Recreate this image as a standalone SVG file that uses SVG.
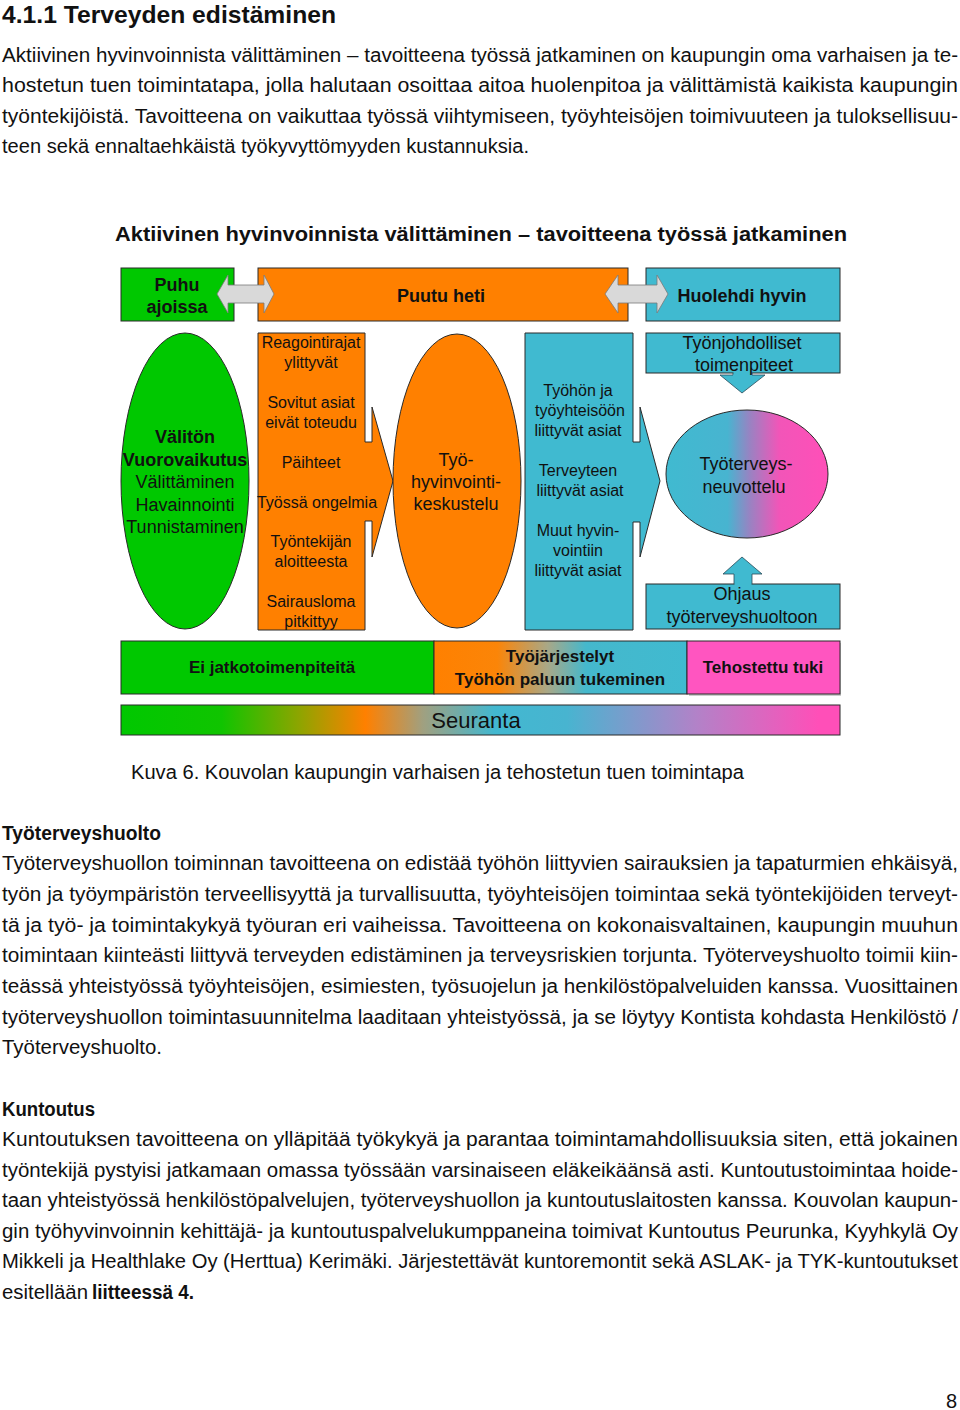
<svg xmlns="http://www.w3.org/2000/svg" width="960" height="1410" viewBox="0 0 960 1410">
<style>
.body{font-family:"Liberation Sans",Arial,sans-serif;font-size:20px;fill:#111}
.bodyb{font-family:"Liberation Sans",Arial,sans-serif;font-size:20px;font-weight:bold;fill:#111}
.d{font-family:"Liberation Sans",Arial,sans-serif;fill:#111;text-anchor:middle}
.db{font-family:"Liberation Sans",Arial,sans-serif;fill:#111;text-anchor:middle;font-weight:bold}
.s16{font-size:16px}
.s18{font-size:18px}
.box{stroke:#2a2a2a;stroke-width:1}
.gray{fill:#d9d9d9;stroke:#7a7a7a;stroke-width:0.8}
.tealarr{fill:#40bad0;stroke:#2a4a58;stroke-width:0.8}
</style>
<defs>
<linearGradient id="gEll" x1="0" y1="0" x2="1" y2="0">
<stop offset="0" stop-color="#40bad0"/><stop offset="0.38" stop-color="#48b4d0"/><stop offset="0.52" stop-color="#9a82c2"/><stop offset="0.7" stop-color="#f255b8"/><stop offset="1" stop-color="#ff4fb8"/>
</linearGradient>
<linearGradient id="gMid" x1="0" y1="0" x2="1" y2="0">
<stop offset="0" stop-color="#ff8000"/><stop offset="0.25" stop-color="#fb8508"/><stop offset="0.45" stop-color="#a8a888"/><stop offset="0.6" stop-color="#45b8cc"/><stop offset="1" stop-color="#40bad0"/>
</linearGradient>
<linearGradient id="gSeu" x1="0" y1="0" x2="1" y2="0">
<stop offset="0" stop-color="#00c800"/><stop offset="0.14" stop-color="#10c400"/><stop offset="0.25" stop-color="#90a400"/><stop offset="0.34" stop-color="#ff8000"/><stop offset="0.42" stop-color="#a0a080"/><stop offset="0.52" stop-color="#42b8d0"/><stop offset="0.62" stop-color="#48b4d0"/><stop offset="0.8" stop-color="#b282c8"/><stop offset="0.97" stop-color="#ff4fb8"/><stop offset="1" stop-color="#ff4fb8"/>
</linearGradient>
</defs>
<rect width="960" height="1410" fill="#fff"/>

<g id="page-text">
<text x="2" y="23" class="bodyb" textLength="334" lengthAdjust="spacingAndGlyphs" style="font-size:24px">4.1.1 Terveyden edistäminen</text>
<text x="2" y="62" class="body" textLength="956" lengthAdjust="spacingAndGlyphs">Aktiivinen hyvinvoinnista välittäminen – tavoitteena työssä jatkaminen on kaupungin oma varhaisen ja te-</text>
<text x="2" y="92" class="body" textLength="956" lengthAdjust="spacingAndGlyphs">hostetun tuen toimintatapa, jolla halutaan osoittaa aitoa huolenpitoa ja välittämistä kaikista kaupungin</text>
<text x="2" y="123" class="body" textLength="956" lengthAdjust="spacingAndGlyphs">työntekijöistä. Tavoitteena on vaikuttaa työssä viihtymiseen, työyhteisöjen toimivuuteen ja tuloksellisuu-</text>
<text x="2" y="153" class="body" textLength="527" lengthAdjust="spacingAndGlyphs">teen sekä ennaltaehkäistä työkyvyttömyyden kustannuksia.</text>

<text x="131" y="779" class="body" textLength="613" lengthAdjust="spacingAndGlyphs">Kuva 6. Kouvolan kaupungin varhaisen ja tehostetun tuen toimintapa</text>

<text x="2" y="840" class="bodyb" textLength="159" lengthAdjust="spacingAndGlyphs">Työterveyshuolto</text>
<text x="2" y="870" class="body" textLength="956" lengthAdjust="spacingAndGlyphs">Työterveyshuollon toiminnan tavoitteena on edistää työhön liittyvien sairauksien ja tapaturmien ehkäisyä,</text>
<text x="2" y="901" class="body" textLength="956" lengthAdjust="spacingAndGlyphs">työn ja työympäristön terveellisyyttä ja turvallisuutta, työyhteisöjen toimintaa sekä työntekijöiden terveyt-</text>
<text x="2" y="932" class="body" textLength="956" lengthAdjust="spacingAndGlyphs">tä ja työ- ja toimintakykyä työuran eri vaiheissa. Tavoitteena on kokonaisvaltainen, kaupungin muuhun</text>
<text x="2" y="962" class="body" textLength="956" lengthAdjust="spacingAndGlyphs">toimintaan kiinteästi liittyvä terveyden edistäminen ja terveysriskien torjunta. Työterveyshuolto toimii kiin-</text>
<text x="2" y="993" class="body" textLength="956" lengthAdjust="spacingAndGlyphs">teässä yhteistyössä työyhteisöjen, esimiesten, työsuojelun ja henkilöstöpalveluiden kanssa. Vuosittainen</text>
<text x="2" y="1024" class="body" textLength="956" lengthAdjust="spacingAndGlyphs">työterveyshuollon toimintasuunnitelma laaditaan yhteistyössä, ja se löytyy Kontista kohdasta Henkilöstö /</text>
<text x="2" y="1054" class="body" textLength="160" lengthAdjust="spacingAndGlyphs">Työterveyshuolto.</text>

<text x="2" y="1116" class="bodyb" textLength="93" lengthAdjust="spacingAndGlyphs">Kuntoutus</text>
<text x="2" y="1146" class="body" textLength="956" lengthAdjust="spacingAndGlyphs">Kuntoutuksen tavoitteena on ylläpitää työkykyä ja parantaa toimintamahdollisuuksia siten, että jokainen</text>
<text x="2" y="1177" class="body" textLength="956" lengthAdjust="spacingAndGlyphs">työntekijä pystyisi jatkamaan omassa työssään varsinaiseen eläkeikäänsä asti. Kuntoutustoimintaa hoide-</text>
<text x="2" y="1207" class="body" textLength="956" lengthAdjust="spacingAndGlyphs">taan yhteistyössä henkilöstöpalvelujen, työterveyshuollon ja kuntoutuslaitosten kanssa. Kouvolan kaupun-</text>
<text x="2" y="1238" class="body" textLength="956" lengthAdjust="spacingAndGlyphs">gin työhyvinvoinnin kehittäjä- ja kuntoutuspalvelukumppaneina toimivat Kuntoutus Peurunka, Kyyhkylä Oy</text>
<text x="2" y="1268" class="body" textLength="956" lengthAdjust="spacingAndGlyphs">Mikkeli ja Healthlake Oy (Herttua) Kerimäki. Järjestettävät kuntoremontit sekä ASLAK- ja TYK-kuntoutukset</text>
<text x="2" y="1299" class="body" textLength="86" lengthAdjust="spacingAndGlyphs">esitellään</text>
<text x="92" y="1299" class="bodyb" textLength="102" lengthAdjust="spacingAndGlyphs">liitteessä 4.</text>

<text x="946" y="1408" class="body">8</text>
</g>

<g id="diagram-title">
<text x="115" y="241" class="bodyb" textLength="732" lengthAdjust="spacingAndGlyphs">Aktiivinen hyvinvoinnista välittäminen – tavoitteena työssä jatkaminen</text>
</g>

<g id="puhu-ajoissa">
<rect x="121" y="268" width="113" height="53" fill="#00c800" class="box"/>
<text x="177" y="291" class="db s18">Puhu</text>
<text x="177" y="313" class="db s18">ajoissa</text>
</g>
<g id="puutu-heti">
<rect x="258" y="268" width="370" height="53" fill="#ff8000" class="box"/>
<text x="441" y="302" class="db s18">Puutu heti</text>
</g>
<g id="huolehdi-hyvin">
<rect x="646" y="268" width="194" height="53" fill="#40bad0" class="box"/>
<text x="742" y="302" class="db s18">Huolehdi hyvin</text>
</g>

<g id="valiton">
<ellipse cx="185" cy="481" rx="64" ry="148" fill="#00c800" class="box"/>
<text x="185" y="443" class="db s18">Välitön</text>
<text x="185" y="466" class="db s18">Vuorovaikutus</text>
<text x="185" y="488" class="d s18">Välittäminen</text>
<text x="185" y="511" class="d s18">Havainnointi</text>
<text x="185" y="533" class="d s18">Tunnistaminen</text>
</g>

<g id="puutu-syyt">
<path d="M258,333 H365 V442 H372 V407 L393,481 L372,557 V521 H365 V630 H258 Z" fill="#ff8000" class="box"/>
<text x="311" y="348" class="d s16">Reagointirajat</text>
<text x="311" y="368" class="d s16">ylittyvät</text>
<text x="311" y="408" class="d s16">Sovitut asiat</text>
<text x="311" y="428" class="d s16">eivät toteudu</text>
<text x="311" y="468" class="d s16">Päihteet</text>
<text x="317" y="508" class="d s16">Työssä ongelmia</text>
<text x="311" y="547" class="d s16">Työntekijän</text>
<text x="311" y="567" class="d s16">aloitteesta</text>
<text x="311" y="607" class="d s16">Sairausloma</text>
<text x="311" y="627" class="d s16">pitkittyy</text>
</g>

<g id="tyohyvinvointikeskustelu">
<ellipse cx="457" cy="481" rx="64" ry="147" fill="#ff8000" class="box"/>
<text x="456" y="466" class="d s18">Työ-</text>
<text x="456" y="488" class="d s18">hyvinvointi-</text>
<text x="456" y="510" class="d s18">keskustelu</text>
</g>

<g id="keskustelun-asiat">
<path d="M525,333 H633 V442 H640 V407 L660,481 L640,557 V522 H633 V630 H525 Z" fill="#40bad0" class="box"/>
<text x="578" y="396" class="d s16">Työhön ja</text>
<text x="580" y="416" class="d s16">työyhteisöön</text>
<text x="578" y="436" class="d s16">liittyvät asiat</text>
<text x="578" y="476" class="d s16">Terveyteen</text>
<text x="580" y="496" class="d s16">liittyvät asiat</text>
<text x="578" y="536" class="d s16">Muut hyvin-</text>
<text x="578" y="556" class="d s16">vointiin</text>
<text x="578" y="576" class="d s16">liittyvät asiat</text>
</g>

<g id="tyoterveysneuvottelu">
<ellipse cx="747" cy="474" rx="81" ry="64" fill="url(#gEll)" class="box"/>
<text x="746" y="470" class="d s18">Työterveys-</text>
<text x="744" y="493" class="d s18">neuvottelu</text>
</g>

<g id="ei-jatkotoimenpiteita">
<rect x="121" y="641" width="313" height="53" fill="#00c800" class="box"/>
<text x="272" y="673" class="db" style="font-size:17px">Ei jatkotoimenpiteitä</text>
</g>
<g id="tyojarjestelyt">
<rect x="434" y="641" width="253" height="53" fill="url(#gMid)" class="box"/>
<text x="560" y="662" class="db" style="font-size:17px">Työjärjestelyt</text>
<text x="560" y="685" class="db" style="font-size:17px">Työhön paluun tukeminen</text>
</g>
<g id="tehostettu-tuki">
<rect x="689" y="643" width="152" height="53" fill="#9a9a9a" opacity="0.5"/>
<rect x="687" y="641" width="153" height="53" fill="#ff55c0" class="box"/>
<text x="763" y="673" class="db" style="font-size:17px">Tehostettu tuki</text>
</g>

<g id="seuranta">
<rect x="121" y="705" width="719" height="30" fill="url(#gSeu)" class="box"/>
<text x="476" y="728" class="d" style="font-size:22px">Seuranta</text>
</g>

<g id="connectors">
<polygon class="gray" points="217,294 228,275 228,285 264,285 264,275 274,294 264,313 264,303 228,303 228,313"/>
<polygon class="gray" points="605,294 618,275 618,285 657,285 657,275 668,294 657,313 657,303 618,303 618,313"/>
<polygon class="tealarr" points="733,366 752,366 752,375 765,375 742,393 720,375 733,375"/>
<polygon class="tealarr" points="742,557 762,574 752,574 752,586 734,586 734,574 723,574"/>
</g>

<g id="tyonjohdolliset">
<rect x="646" y="333" width="194" height="40" fill="#40bad0" class="box"/>
<rect x="733.5" y="372" width="18" height="3" fill="#40bad0"/>
<text x="742" y="349" class="d s18">Työnjohdolliset</text>
<text x="744" y="371" class="d s18">toimenpiteet</text>
</g>

<g id="ohjaus">
<rect x="646" y="584" width="194" height="45" fill="#40bad0" class="box"/>
<rect x="734.5" y="583" width="17" height="3" fill="#40bad0"/>
<text x="742" y="600" class="d s18">Ohjaus</text>
<text x="742" y="623" class="d s18">työterveyshuoltoon</text>
</g>
</svg>
